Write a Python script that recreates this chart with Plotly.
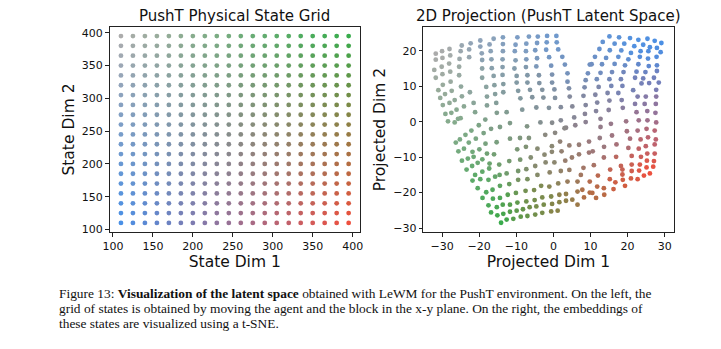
import numpy as np
import plotly.graph_objects as go

W, H = 721, 349

# ---------------- data: physical state grid ----------------
state_dim1 = [110, 125, 140, 155, 170, 185, 200, 215, 230, 245,
              260, 275, 290, 305, 320, 335, 350, 365, 380, 395]
state_dim2 = [110, 125, 140, 155, 170, 185, 200, 215, 230, 245,
              260, 275, 290, 305, 320, 335, 350, 365, 380, 395]

# corner colours of the 2-D colour map (low/low, high/low, high/high, low/high)
c_blue = np.array([74, 144, 230])
c_red = np.array([238, 80, 62])
c_green = np.array([56, 172, 76])
c_gray = np.array([172, 172, 172])


def cmap2d(u, v):
    c = (c_blue * (1 - u) * (1 - v) + c_red * u * (1 - v)
         + c_green * u * v + c_gray * (1 - u) * v)
    return "rgb(%d,%d,%d)" % tuple(np.clip(c, 0, 255).astype(int))


# ---------------- data: t-SNE projection ----------------
tsne_x = [
    # upper-left wing
    -24.7, -22.3, -19.7, -16.1, -13.6,
    -31.7, -30.0, -28.0, -25.0, -22.7, -19.7, -17.2, -13.6,
    -31.7, -29.9, -27.8, -25.3, -22.7, -19.3, -16.9, -13.6,
    -32.1, -30.1, -28.1, -25.4, -19.2, -16.7, -13.7,
    -31.7, -29.9, -27.8, -25.4, -19.2, -16.6, -13.7,
    -29.8, -27.7, -24.9, -22.5, -19.2, -16.1, -13.7,
    -31.0, -29.2, -27.4, -24.65, -21.5, -18.1, -15.9, -13.5,
    -30.5, -26.6, -24.1, -21.1, -17.9, -15.7, -13.5,
    -29.8, -28.0, -26.1, -17.9, -15.4,
    -29.1, -27.5, -25.7, -15.25,
    -28.4, -26.6, -25.0, -20.1, -18.35, -14.4,
    # upper middle
    -9.7, -6.6, -4.2, -1.7, 0.8,
    -10.2, -7.3, -4.4, -1.8, 0.9,
    -10.4, -7.4, -4.9, -1.95, 1.3,
    -10.2, -7.3, -4.4, -1.15, 2.4,
    -10.5, -7.4, -4.6, -0.6, 3.1, 9.8,
    -9.9, -7.0, -3.9, -0.35, 3.8, 9.3,
    -9.9, -7.0, -3.8, -0.35, 3.8, 8.7,
    -9.5, -6.3, -3.0, 0.27, 4.2, 8.4,
    -8.9, -5.7, -2.7, 0.45, 4.4, 8.1,
    -12.6, -8.4, -4.6, -1.2, 2.0, 5.1, 8.7,
    -11.7, -7.1, -3.5, -0.35, 2.0, 5.6, 8.5,
    3.4, 5.9, 8.7,
    # upper right wing
    15.1, 17.7, 20.65, 22.9, 25.35, 27.3, 29.1,
    13.3, 16.5, 19.1, 21.8, 24.2, 26.0, 27.9,
    12.4, 15.2, 18.3, 20.9, 23.5, 25.6, 28.9,
    11.2, 14.2, 17.5, 20.2, 23.3, 25.5, 27.8,
    10.3, 13.1, 16.5, 19.3, 22.9, 25.7, 27.9,
    12.7, 15.8, 18.9, 22.4, 24.8, 27.9,
    11.7, 15.1, 18.2, 22.0, 24.2, 27.1,
    12.2, 15.6, 18.6, 21.5, 23.75, 25.8, 28.4,
    11.3, 14.6, 17.5, 22.7, 24.9, 27.7,
    11.8, 15.1, 18.4, 22.0, 24.6, 27.7,
    11.5, 14.9, 18.7, 22.4, 25.3, 27.6,
    12.7, 15.5, 19.6, 23.0, 25.35, 27.5,
    12.7, 27.7,
    # lower left (green)
    -23.7, -22.1, -18.8, -16.8,
    -26.3, -25.2, -22.8, -20.9, -18.3, -15.3,
    -25.6, -24.1, -21.8, -19.95, -17.9, -16.0,
    -24.65, -23.05, -21.5, -19.15, -17.2, -14.6,
    -23.4, -21.9, -20.4, -19.15, -17.3, -14.5,
    -21.1, -21.8, -19.7, -17.5, -15.7,
    -20.4, -18.1, -16.4, -14.4,
    -19.1, -16.3, -14.4,
    -17.5, -15.25, -13.65,
    -16.8, -15.1, -13.5,
    -14.1,
    # lower middle
    3.0,
    -11.7, -9.0, -6.6, -2.2, 0.45,
    -9.75, -7.4, -4.3, -0.4, 1.8, 4.3, 6.9, 9.6,
    -11.9, -8.95, -6.1, -2.4, -0.4, 2.2, 5.0, 6.9, 9.6,
    -12.6, -9.5, -7.3, -4.9, -2.1, 0.27, 3.2, 8.1,
    -11.9, -9.5, -7.0, -4.3, -1.0, 2.0, 4.3, 7.4,
    -12.3, -10.1, -7.5, -5.2, -3.3, -1.1, 1.3, 3.8, 6.5, 9.8,
    -11.7, -9.7, -7.3, -5.05, -3.0, -0.6, 1.6, 3.4, 5.1, 6.5, 7.8, 9.8,
    -11.7, -9.9, -8.2, -6.4, -4.6, -2.6, -0.35, 1.6, 3.4, 6.5, 8.25,
    -12.6, -10.8, -8.8, -7.0, -4.9, -3.0, -0.6, 1.15,
    # lower right
    19.8, 22.7, 25.1, 27.3,
    12.5, 15.8, 20.65, 23.5, 25.5, 27.6,
    10.6, 13.65, 17.0, 20.2, 23.0, 24.9, 27.3,
    13.6, 16.9, 21.1, 23.6, 25.3, 27.3,
    10.9, 18.2, 21.1, 23.3, 25.2, 27.1,
    15.3, 18.6, 21.1, 23.1, 25.1, 26.9,
    12.0, 18.6, 20.9, 22.7, 24.4, 26.0,
    15.2, 16.7, 18.7, 19.3,
    11.8, 13.6, 16.2,
    10.5, 13.7,
    11.5,
]
tsne_y = [
    # upper-left wing
    21.5, 22.1, 22.9, 23.4, 23.8,
    19.2, 19.9, 20.5, 19.9, 20.4, 21.2, 21.8, 21.9,
    17.5, 18.0, 18.7, 17.7, 18.2, 19.3, 19.9, 19.9,
    14.6, 15.5, 16.4, 15.5, 17.4, 17.6, 17.6,
    12.4, 13.4, 14.1, 13.1, 15.0, 15.1, 15.4,
    10.4, 11.3, 9.9, 8.3, 12.4, 12.9, 13.2,
    8.9, 7.8, 8.7, 7.15, 5.3, 9.8, 10.3, 10.6,
    6.7, 6.1, 4.3, 2.7, 7.1, 7.8, 8.3,
    4.7, 5.3, 3.4, 4.6, 5.3,
    2.2, 2.5, 0.8, 2.5,
    0.1, -0.2, 1.0, -1.0, 0.6, -1.5,
    # upper middle
    23.8, 24.0, 24.0, 24.2, 24.2,
    21.7, 22.0, 22.2, 22.4, 22.4,
    19.9, 19.9, 20.15, 20.3, 20.4,
    17.3, 17.6, 17.9, 18.2, 18.3,
    15.0, 15.4, 15.6, 15.8, 16.1, 16.1,
    12.9, 13.1, 13.1, 13.3, 13.65, 13.65,
    11.05, 11.05, 10.9, 11.05, 11.3, 11.7,
    8.7, 9.0, 9.0, 9.1, 9.4, 9.7,
    6.6, 6.9, 6.8, 6.7, 7.1, 7.3,
    2.7, 3.4, 4.0, 3.9, 4.1, 4.3, 4.7,
    -0.4, -1.3, -0.2, -0.3, 0.4, 1.2, 2.2,
    -1.7, -1.0, -0.1,
    # upper right wing
    24.05, 23.8, 23.6, 23.1, 23.4, 22.8, 22.2,
    22.5, 22.0, 22.0, 21.3, 21.7, 21.0, 20.8,
    20.5, 20.15, 20.1, 19.4, 19.9, 19.9, 19.6,
    18.3, 18.0, 18.3, 17.6, 18.3, 17.8, 18.3,
    16.2, 16.2, 16.3, 15.9, 16.2, 15.7, 15.9,
    13.8, 14.0, 14.0, 14.1, 14.0, 14.3,
    12.0, 12.0, 12.0, 12.4, 12.2, 12.4,
    9.8, 10.1, 10.1, 8.9, 10.8, 10.9, 11.05,
    7.6, 8.1, 8.1, 7.1, 7.1, 9.0,
    5.4, 5.95, 6.1, 5.0, 5.0, 7.1,
    3.0, 3.3, 3.9, 2.7, 3.0, 5.0,
    0.8, -0.6, 0.1, 0.4, 0.4, 2.5,
    -1.5, -0.2,
    # lower left (green)
    -3.7, -2.5, -3.2, -2.0,
    -5.9, -5.0, -5.9, -4.8, -6.2, -5.8,
    -8.35, -7.6, -8.5, -7.8, -9.0, -9.2,
    -11.0, -10.4, -9.9, -10.6, -11.8, -12.1,
    -13.5, -12.5, -11.6, -14.1, -13.2, -15.0,
    -15.0, -16.6, -16.2, -16.4, -15.5,
    -18.75, -19.9, -19.2, -18.1,
    -21.5, -21.7, -21.5,
    -23.6, -24.1, -23.4,
    -25.6, -26.4, -26.0,
    -28.5,
    # lower middle
    -1.85,
    -4.8, -4.6, -4.6, -3.7, -3.15,
    -7.8, -7.1, -7.6, -6.9, -5.6, -6.7, -6.5, -5.6,
    -11.1, -10.7, -10.1, -9.3, -8.5, -8.35, -10.1, -9.2, -8.7,
    -14.6, -13.9, -13.4, -12.5, -11.5, -11.5, -11.0, -13.0,
    -17.6, -16.4, -16.2, -15.0, -14.3, -13.9, -13.6, -15.0,
    -20.6, -20.1, -19.5, -19.3, -18.1, -18.3, -17.4, -16.9, -16.9, -16.9,
    -23.4, -22.8, -22.5, -22.1, -21.35, -21.1, -20.6, -20.4, -22.0, -19.7, -19.2, -20.0,
    -25.4, -25.1, -24.7, -24.1, -23.9, -23.4, -23.2, -22.7, -22.3, -23.4, -21.35,
    -27.6, -27.4, -26.8, -26.6, -26.2, -25.7, -25.3, -25.1,
    # lower right
    -2.7, -2.5, -2.0, -2.5,
    -4.6, -3.9, -4.8, -5.0, -4.4, -5.0,
    -8.35, -7.1, -6.4, -7.4, -7.6, -6.9, -6.4,
    -10.1, -9.9, -9.65, -9.9, -9.0, -9.0,
    -12.25, -12.5, -12.1, -12.1, -11.0, -11.1,
    -13.5, -13.5, -13.9, -13.8, -12.9, -12.7,
    -15.2, -14.9, -16.0, -16.2, -15.2, -14.6,
    -16.2, -17.1, -16.4, -18.1,
    -18.3, -18.75, -19.0,
    -20.1, -20.6,
    -21.5,
]

# colour anchors: position -> (state-dim-1 fraction, state-dim-2 fraction)
anchor_x = [29.1, 22.9, 15.1, 0.8, -9.7, -19.7, -31.7,
            28.9, 27.9, 27.6, 27.6, 26.0,
            19.3, 11.5, 1.15, -8.8, -14.1,
            -32.1, -31.0, -28.4, -26.3, -24.65, -21.8, -19.1,
            12.4, 10.3, 3.8, 11.8, 20.0, 18.6, 12.5, 18.2, 5.0, -2.0,
            -4.6, -12.0, -10.0, -3.0, -20.0, -15.0, 5.0]
anchor_y = [22.2, 23.1, 24.0, 24.2, 23.8, 22.9, 19.2,
            19.6, 12.4, 5.0, -5.0, -14.6,
            -18.1, -21.5, -25.1, -26.8, -28.5,
            14.6, 8.9, 0.1, -5.9, -11.0, -16.6, -21.5,
            20.5, 16.2, 13.6, 5.4, 10.0, -3.0, -4.6, -12.5, -10.0, -10.0,
            -23.9, -11.0, 10.0, 5.0, 10.0, -1.5, 5.0]
anchor_u = [0.0, 0.0, 0.02, 0.02, 0.02, 0.02, 0.0,
            0.05, 0.25, 0.42, 0.7, 1.0,
            1.0, 0.98, 0.98, 0.98, 1.0,
            0.08, 0.18, 0.32, 0.42, 0.55, 0.7, 0.82,
            0.08, 0.15, 0.15, 0.35, 0.25, 0.6, 0.55, 0.85, 0.7, 0.65,
            0.95, 0.65, 0.25, 0.35, 0.2, 0.45, 0.4]
anchor_v = [0.0, 0.08, 0.18, 0.38, 0.52, 0.72, 1.0,
            0.0, 0.0, 0.0, 0.0, 0.0,
            0.15, 0.3, 0.55, 0.78, 1.0,
            1.0, 1.0, 0.98, 0.98, 0.98, 0.98, 0.98,
            0.2, 0.25, 0.35, 0.25, 0.1, 0.12, 0.25, 0.12, 0.35, 0.5,
            0.65, 0.75, 0.6, 0.5, 0.8, 0.75, 0.35]

# ---------------- colours ----------------
grid_x, grid_y, grid_c = [], [], []
for j, yv in enumerate(state_dim2):
    for i, xv in enumerate(state_dim1):
        grid_x.append(xv)
        grid_y.append(yv)
        grid_c.append(cmap2d(i / (len(state_dim1) - 1), j / (len(state_dim2) - 1)))

ax_ = np.array(anchor_x); ay_ = np.array(anchor_y)
au_ = np.array(anchor_u); av_ = np.array(anchor_v)
tsne_c = []
for px, py in zip(tsne_x, tsne_y):
    d2 = (ax_ - px) ** 2 + (ay_ - py) ** 2
    idx = np.argsort(d2)[:4]
    w = 1.0 / (d2[idx] + 1.0)
    u = float(np.sum(w * au_[idx]) / np.sum(w))
    v = float(np.sum(w * av_[idx]) / np.sum(w))
    tsne_c.append(cmap2d(u, v))

# ---------------- figure ----------------
def px2x(p):
    return p / W


def px2y(p):
    return 1 - p / H


fig = go.Figure()
fig.add_trace(go.Scatter(x=grid_x, y=grid_y, mode="markers",
                         marker=dict(size=4.8, color=grid_c, line=dict(width=0)),
                         xaxis="x", yaxis="y", showlegend=False, hoverinfo="skip"))
fig.add_trace(go.Scatter(x=tsne_x, y=tsne_y, mode="markers",
                         marker=dict(size=4.8, color=tsne_c, line=dict(width=0)),
                         xaxis="x2", yaxis="y2", showlegend=False, hoverinfo="skip"))

axis_common = dict(showgrid=False, zeroline=False, showline=True, mirror=True,
                   linecolor="#222", linewidth=1, ticks="outside", ticklen=3.5,
                   tickwidth=0.8, tickcolor="#222",
                   tickfont=dict(family="DejaVu Sans", size=11, color="#111"),
                   title_font=dict(family="DejaVu Sans", size=15.5, color="#111"))

ydom = [px2y(235), px2y(27)]
fig.update_layout(
    width=W, height=H, margin=dict(l=0, r=0, t=0, b=0),
    paper_bgcolor="white", plot_bgcolor="white",
    xaxis=dict(domain=[px2x(104), px2x(358)], range=[95.75, 409.25],
               tickvals=[100, 150, 200, 250, 300, 350, 400],
               title=dict(text="State Dim 1", standoff=0), anchor="y", **axis_common),
    yaxis=dict(domain=ydom, range=[95.75, 409.25],
               tickvals=[100, 150, 200, 250, 300, 350, 400],
               title=dict(text="State Dim 2", standoff=3), anchor="x", **axis_common),
    xaxis2=dict(domain=[px2x(422), px2x(676)], range=[-35.1, 32.4],
                tickvals=[-30, -20, -10, 0, 10, 20, 30],
                title=dict(text="Projected Dim 1", standoff=0), anchor="y2", **axis_common),
    yaxis2=dict(domain=ydom, range=[-31.2, 26.8],
                tickvals=[-30, -20, -10, 0, 10, 20],
                title=dict(text="Projected Dim 2", standoff=3), anchor="x2", **axis_common),
)

ann = []
ann.append(dict(text="PushT Physical State Grid", x=px2x(231), y=px2y(16),
                xref="paper", yref="paper", showarrow=False, xanchor="center", yanchor="middle",
                font=dict(family="DejaVu Sans", size=15, color="#111")))
ann.append(dict(text="2D Projection (PushT Latent Space)", x=px2x(549), y=px2y(16),
                xref="paper", yref="paper", showarrow=False, xanchor="center", yanchor="middle",
                font=dict(family="DejaVu Sans", size=15, color="#111")))

caption_lines = [
    "Figure 13: <b>Visualization of the latent space</b> obtained with LeWM for the PushT environment. On the left, the",
    "grid of states is obtained by moving the agent and the block in the x-y plane. On the right, the embeddings of",
    "these states are visualized using a t-SNE.",
]
caption_y = [296.5, 312.0, 327.5]
for t, yy in zip(caption_lines, caption_y):
    ann.append(dict(text=t, x=px2x(52), y=px2y(yy), xref="paper", yref="paper",
                    showarrow=False, xanchor="left", yanchor="middle", align="left",
                    borderpad=0,
                    font=dict(family="Liberation Serif", size=13.4, color="#111")))
fig.update_layout(annotations=ann)

fig.write_html("out.html")
